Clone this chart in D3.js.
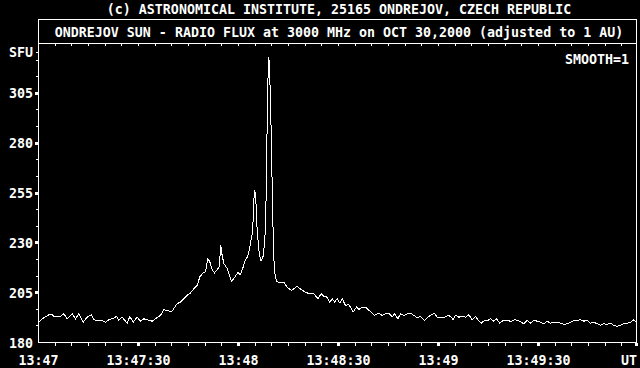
<!DOCTYPE html>
<html>
<head>
<meta charset="utf-8">
<script src="https://cdn.jsdelivr.net/npm/d3@7"></script>
<style>
  body { margin: 0; background: #000; }
  text { font-family: "DejaVu Sans Mono", monospace; font-size: 13.3px; font-weight: bold; fill: #fff; }
</style>
</head>
<body>
<div id="chart"></div>
<script>
// seconds after 13:47:00 UT
var seconds = [0.1, 1.1, 3.1, 4.1, 4.6, 6.6, 7.6, 8.6, 10.1, 11.1, 12.1, 13.4, 14.6, 15.8, 16.6, 17.6, 19.1, 20.1, 21.1, 22.6,
  23.4, 24.1, 25.1, 26.6, 27.4, 28.4, 29.6, 30.6, 31.6, 33.1, 34.1, 35.1, 36.6, 37.6, 39.1, 40.1, 41.6, 42.6, 43.6, 44.6,
  45.4, 46.6, 47.6, 48.4, 49.4, 50.1, 50.8, 51.4, 52.1, 52.8, 53.6, 54.2, 54.7, 55, 55.6, 56.6, 57.9, 58.8, 59.8, 60.6,
  61.4, 62.1, 62.8, 63.4, 64.1, 64.4, 64.6, 64.9, 65.2, 65.6, 66.1, 66.6, 66.8, 67.4, 67.9, 68.2, 68.5, 68.8, 69.1, 69.4,
  69.7, 70, 70.3, 70.6, 70.8, 71.4, 72.1, 73.6, 74.6, 75.8, 76.6, 77.6, 78.8, 80.1, 81.1, 82.6, 83.8, 84.8, 85.6, 86.4,
  87.4, 88.1, 88.8, 89.6, 90.4, 91.1, 92.1, 93.1, 94.4, 95.4, 96.1, 97.1, 98.1, 99.1, 99.8, 100.8, 102.1, 103.1, 104.1, 105.1,
  106.1, 106.8, 107.8, 108.6, 109.6, 110.6, 111.6, 112.6, 113.6, 114.6, 115.8, 116.8, 117.6, 118.8, 119.6, 120.6, 121.6, 122.8, 123.6, 124.4,
  125.1, 126.1, 127.1, 128.1, 129.1, 130.1, 131.1, 131.8, 132.8, 133.8, 134.8, 135.6, 136.4, 137.4, 138.4, 139.4, 140.4, 141.8, 142.8, 143.8,
  144.8, 145.6, 146.6, 147.6, 148.6, 149.6, 150.6, 151.6, 152.6, 153.6, 154.6, 155.6, 156.6, 157.6, 158.6, 159.6, 160.6, 161.6, 162.6, 163.6,
  164.6, 165.6, 166.6, 167.6, 168.6, 169.6, 170.6, 171.6, 172.6, 173.6, 174.6, 175.6, 176.6, 177.6, 178.6, 179.4]
var flux = [190.2, 191.9, 193.9, 193.9, 193.1, 193.1, 194.4, 191.9, 194.4, 191.9, 194.4, 190.2, 192.7, 193.9, 191.4, 191.1, 191.1, 190.2, 191.4, 192.2,
  193.1, 191.1, 192.7, 189.7, 193.1, 190.2, 192.7, 190.7, 191.9, 191.1, 190.7, 191.9, 193.6, 196.4, 195.8, 195.8, 199.5, 200.3, 202, 203.7,
  204.5, 207, 208.7, 212.9, 215.1, 215.4, 222.1, 220.4, 216.6, 214.9, 216.6, 217.9, 228.8, 224.6, 219.6, 217.1, 210.7, 212.5, 215.1, 214,
  217.9, 221.6, 223.3, 228, 234.5, 241.4, 251.5, 256.5, 251.5, 236.4, 226.3, 221.6, 220.9, 223.3, 231.3, 244.8, 279.1, 310.2, 323.3, 312.7,
  293.4, 268.2, 241.4, 222.9, 215.4, 210.9, 209.9, 210.2, 207.8, 206.2, 206.9, 208.2, 206.5, 205.3, 204.5, 204.5, 202, 204.5, 203.1, 203.1,
  200, 202, 200.3, 202, 199.8, 202, 198.6, 199, 195.3, 197.8, 196.6, 197.8, 197.8, 196.1, 195.3, 193.6, 194.7, 193.6, 194.4, 194.7,
  192.8, 194.4, 191.9, 194.4, 193.6, 194.4, 194.7, 193.6, 192.5, 193.1, 191.1, 192.8, 193.6, 194.7, 192.8, 192.3, 192.4, 193.6, 193.1, 191.4,
  193.6, 192.7, 193.1, 192.7, 193.9, 191.4, 193.1, 191.4, 189.7, 191.1, 191.1, 191.9, 190.7, 191.9, 189.7, 191.1, 191.1, 190.6, 191.4, 191.1,
  190.2, 189.4, 191.1, 189.7, 191.1, 190.7, 190.2, 189.4, 190.7, 189.7, 190.2, 190.2, 189.7, 189.1, 189.4, 190.2, 191.1, 191.1, 191.4, 190.7,
  191.1, 189.7, 190.2, 189.4, 188.6, 189.4, 189.1, 189.7, 188.6, 188.1, 188.6, 189.4, 189.7, 190.2, 191.4, 190.2]

var yTicks = [180, 205, 230, 255, 280, 305]
var xTicks = [0, 30, 60, 90, 120, 150]
var xTickLabels = ["13:47", "13:47:30", "13:48", "13:48:30", "13:49", "13:49:30"]

var width = 640,
  height = 368;

var x = d3.scaleLinear().domain([0, 180]).range([38.5, 638.5]);
var y = d3.scaleLinear().domain([180, 330]).range([342.5, 43.5]);

var svg = d3.select("#chart").append("svg")
  .attr("width", width)
  .attr("height", height)
  .style("background", "#000");

svg.append("text")
  .attr("x", 339).attr("y", 13.5)
  .attr("text-anchor", "middle")
  .text("(c) ASTRONOMICAL INSTITUTE, 25165 ONDREJOV, CZECH REPUBLIC");

// frame: title box + plot box
var g = svg.append("g")
  .attr("stroke", "#fff")
  .attr("fill", "none")
  .attr("shape-rendering", "crispEdges");

g.append("rect")
  .attr("x", 38.5).attr("y", 19.5)
  .attr("width", 598).attr("height", 323);
g.append("line")
  .attr("x1", 38.5).attr("x2", 636.5)
  .attr("y1", 43.5).attr("y2", 43.5);

svg.append("text")
  .attr("x", 339).attr("y", 36.7)
  .attr("text-anchor", "middle")
  .text("ONDREJOV SUN - RADIO FLUX at 3000 MHz on OCT 30,2000 (adjusted to 1 AU)");

// minor ticks every 5 s, top and bottom
var minorX = d3.range(5, 180, 5).filter(function(d) { return d % 30 != 0; });
g.selectAll(".tb").data(d3.range(5, 180, 5)).enter().append("line")
  .attr("x1", function(d) { return Math.floor(x(d)) + 0.5; })
  .attr("x2", function(d) { return Math.floor(x(d)) + 0.5; })
  .attr("y1", 44).attr("y2", 46);
g.selectAll(".bt").data(minorX).enter().append("line")
  .attr("x1", function(d) { return Math.floor(x(d)) + 0.5; })
  .attr("x2", function(d) { return Math.floor(x(d)) + 0.5; })
  .attr("y1", 343).attr("y2", 346);

// major ticks drawn as little squares
svg.selectAll(".xm").data(xTicks.slice(1).concat([180])).enter().append("rect")
  .attr("x", function(d) { return Math.min(Math.floor(x(d)) - 1, 635); })
  .attr("y", 343).attr("width", 3).attr("height", 3)
  .attr("fill", "#fff");

// y minor ticks every 25/3 SFU
var minorY = d3.range(1, 18).map(function(i) { return 180 + i * 25 / 3; })
  .filter(function(d, i) { return (i + 1) % 3 != 0; });
g.selectAll(".ym").data(minorY).enter().append("line")
  .attr("x1", 36).attr("x2", 38)
  .attr("y1", function(d) { return Math.floor(y(d)) + 0.5; })
  .attr("y2", function(d) { return Math.floor(y(d)) + 0.5; });
g.append("line").attr("x1", 36).attr("x2", 38).attr("y1", 52.5).attr("y2", 52.5);

svg.selectAll(".yq").data(yTicks.slice(1)).enter().append("rect")
  .attr("x", 35)
  .attr("y", function(d) { return Math.floor(y(d)) - 1; })
  .attr("width", 3).attr("height", 3)
  .attr("fill", "#fff");

svg.selectAll(".yl").data(yTicks).enter().append("text")
  .attr("x", 33)
  .attr("y", function(d) { return y(d) + 5; })
  .attr("text-anchor", "end")
  .text(function(d) { return d; });

svg.append("text")
  .attr("x", 33).attr("y", 57)
  .attr("text-anchor", "end")
  .text("SFU");

svg.selectAll(".xl").data(xTicks).enter().append("text")
  .attr("x", function(d) { return x(d); })
  .attr("y", 365)
  .attr("text-anchor", "middle")
  .text(function(d, i) { return xTickLabels[i]; });

svg.append("text")
  .attr("x", 637).attr("y", 365)
  .attr("text-anchor", "end")
  .text("UT");

svg.append("text")
  .attr("x", 629).attr("y", 64.3)
  .attr("text-anchor", "end")
  .text("SMOOTH=1");

var line = d3.line()
  .x(function(d, i) { return x(seconds[i]); })
  .y(function(d) { return y(d); });

svg.append("path")
  .datum(flux)
  .attr("d", line)
  .attr("fill", "none")
  .attr("stroke", "#fff")
  .attr("stroke-width", 1)
  .attr("shape-rendering", "crispEdges");
</script>
</body>
</html>
